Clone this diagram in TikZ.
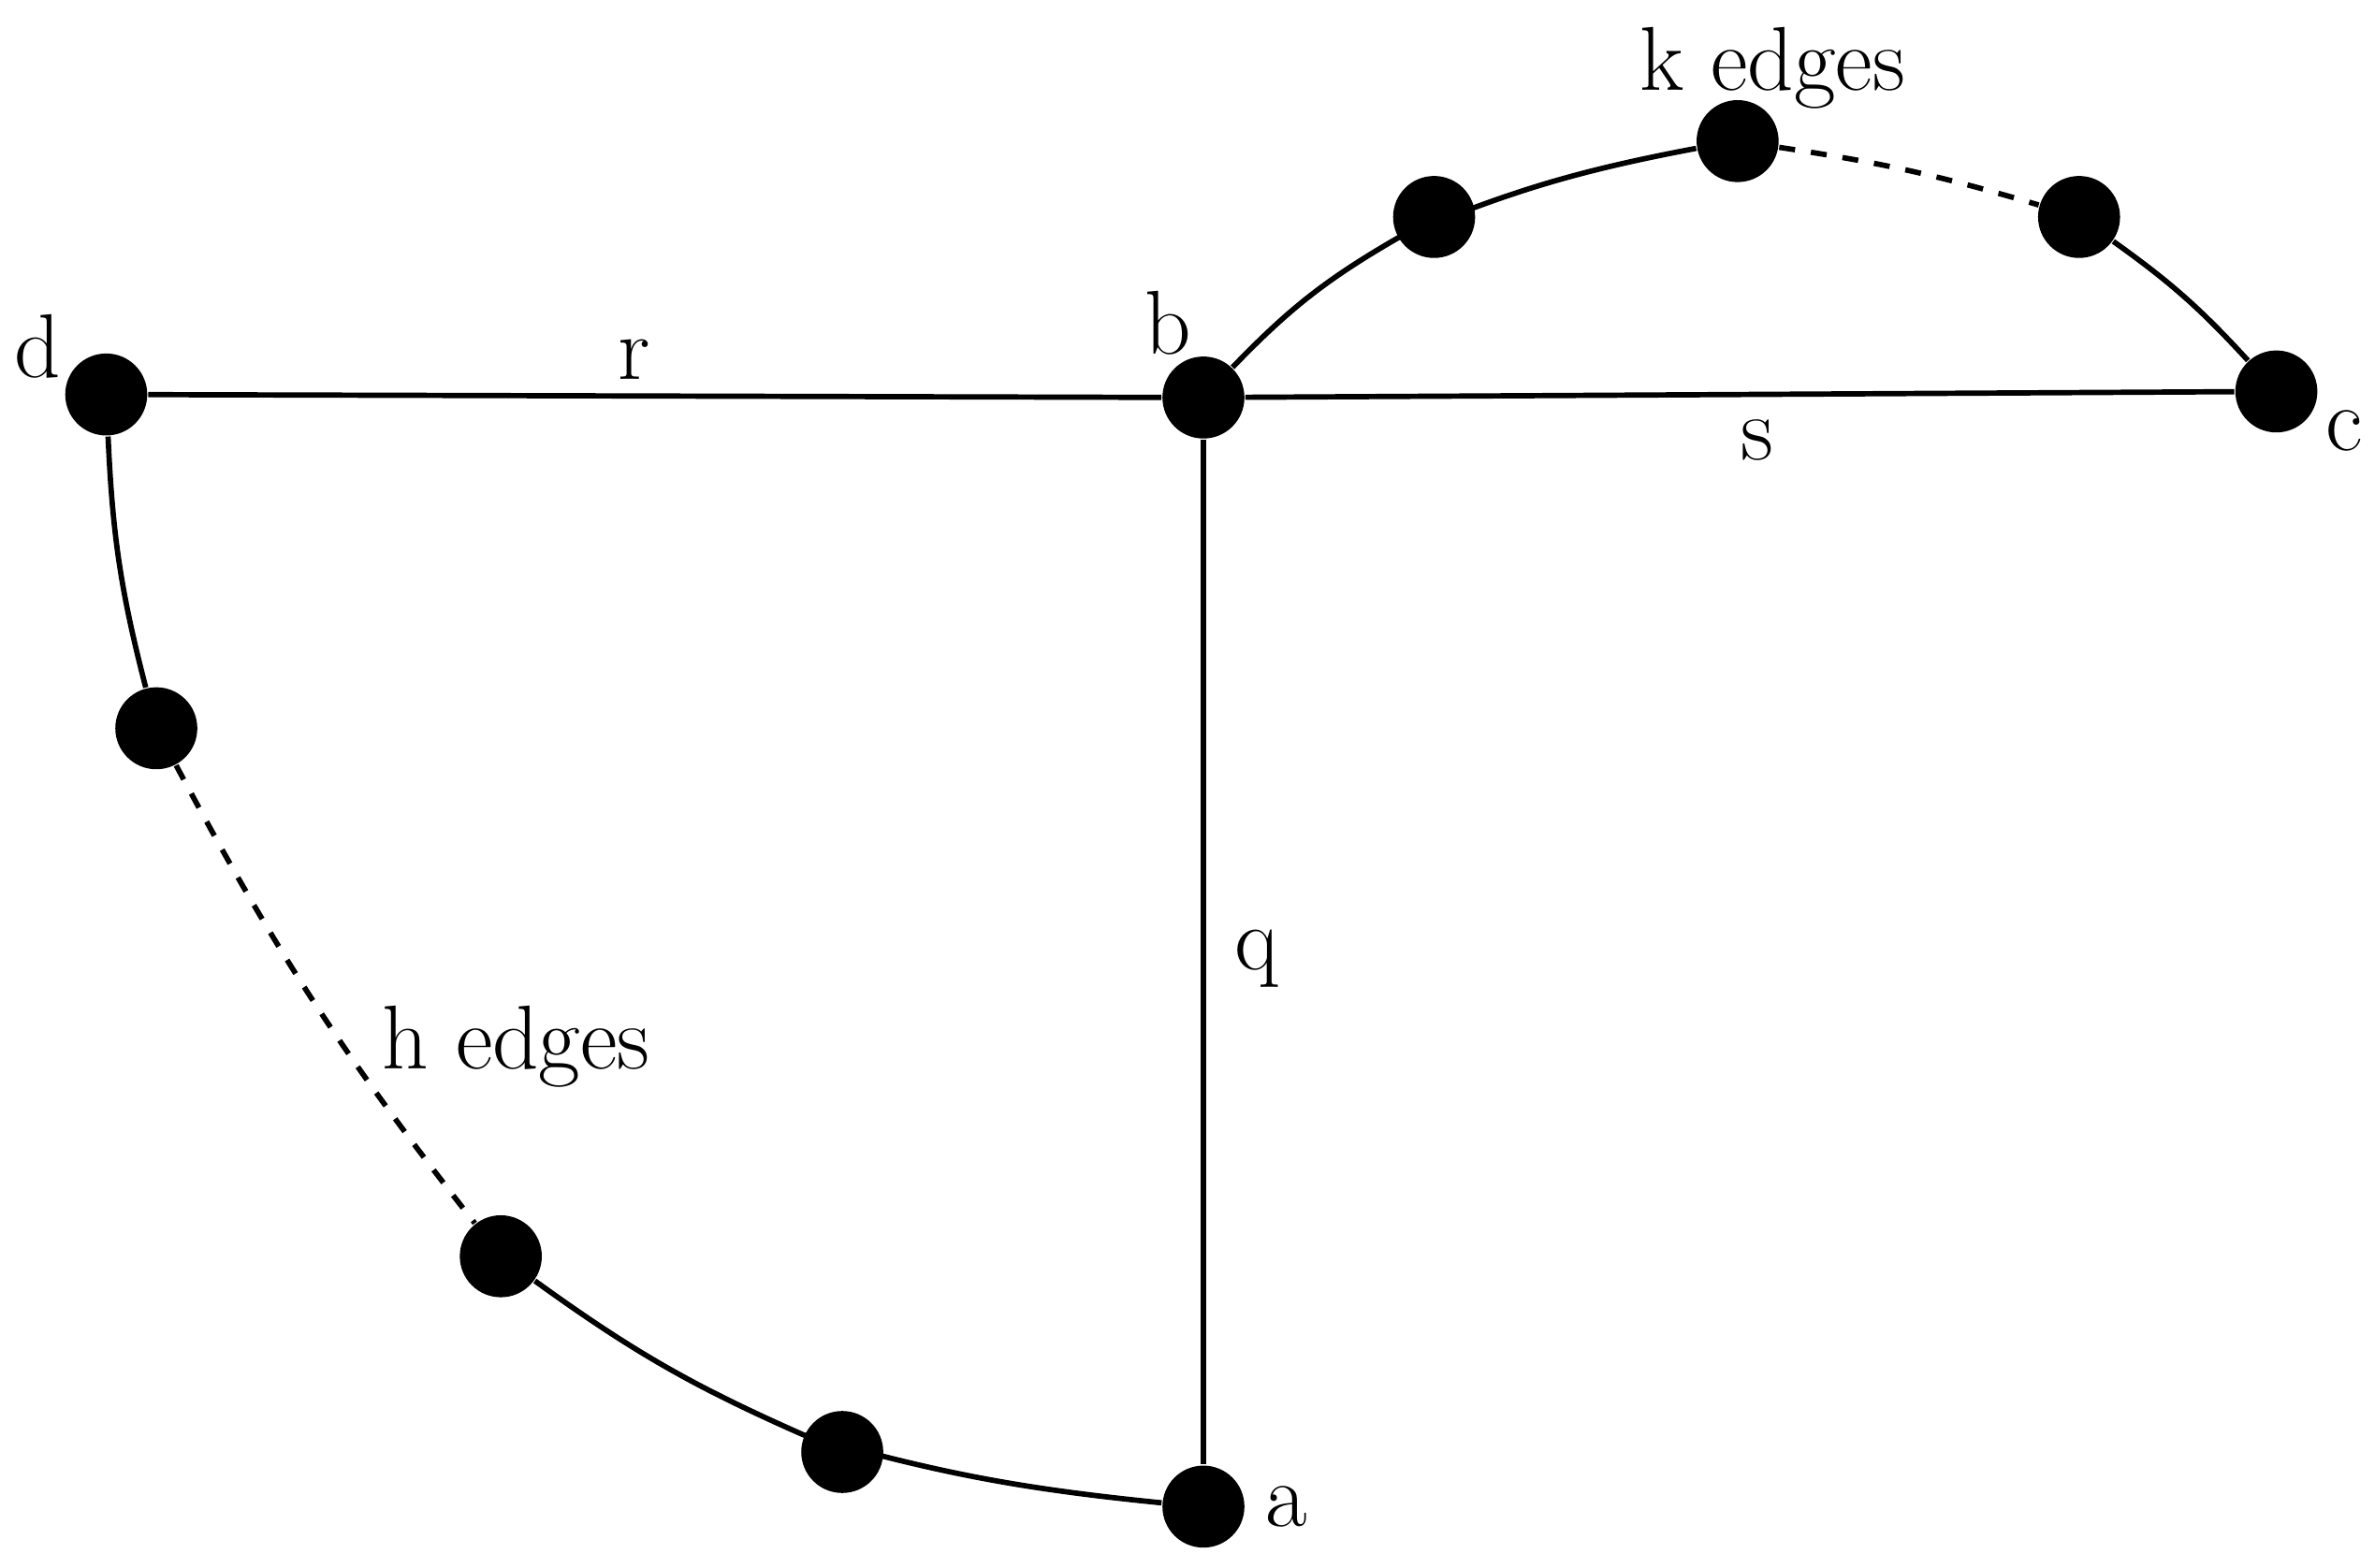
\documentclass[tikz,border=0pt]{standalone}
\begin{document}
\begin{tikzpicture}[x=0.01cm,y=-0.01cm,
  vtx/.style={circle,fill=black,inner sep=0pt,minimum size=0.54cm},
  lbl/.style={font=\fontsize{17}{20}\selectfont},
  edge/.style={line width=1pt}]
\useasboundingbox (0,0) rectangle (1565,1033);
\node[vtx] (d) at (70,260) {};
\node[vtx] (b) at (793,262) {};
\node[vtx] (c) at (1500,258) {};
\node[vtx] (a) at (793,993) {};
\node[vtx] (k1) at (945,143) {};
\node[vtx] (k2) at (1145,93) {};
\node[vtx] (k3) at (1370,143) {};
\node[vtx] (h1) at (103,480) {};
\node[vtx] (h2) at (330,828) {};
\node[vtx] (h3) at (555,957) {};
\draw[edge] (d) -- (b) -- (c);
\draw[edge] (b) -- (a);
\draw[edge] (b) to[bend left=8] (k1) to[bend left=6] (k2);
\draw[edge,dashed] (k2) to[bend left=4] (k3);
\draw[edge] (k3) to[bend left=6] (c);
\draw[edge] (d) to[bend right=6] (h1);
\draw[edge,dashed] (h1) to[bend right=5] (h2);
\draw[edge] (h2) to[bend right=6] (h3) to[bend right=5] (a);
\node[lbl] (ld) at (25,228) {d};
\node[lbl] (lr) at (418,237) {r};
\node[lbl] (lb) at (770,213) {b};
\node[lbl] (ls) at (1158,290) {s};
\node[lbl] (lc) at (1545,284) {c};
\node[lbl] (lq) at (828,632) {q};
\node[lbl] (la) at (848,993) {a};
\node[lbl] (lk) at (1168,45) {k edges};
\node[lbl] (lh) at (340,690) {h edges};
\end{tikzpicture}
\end{document}
